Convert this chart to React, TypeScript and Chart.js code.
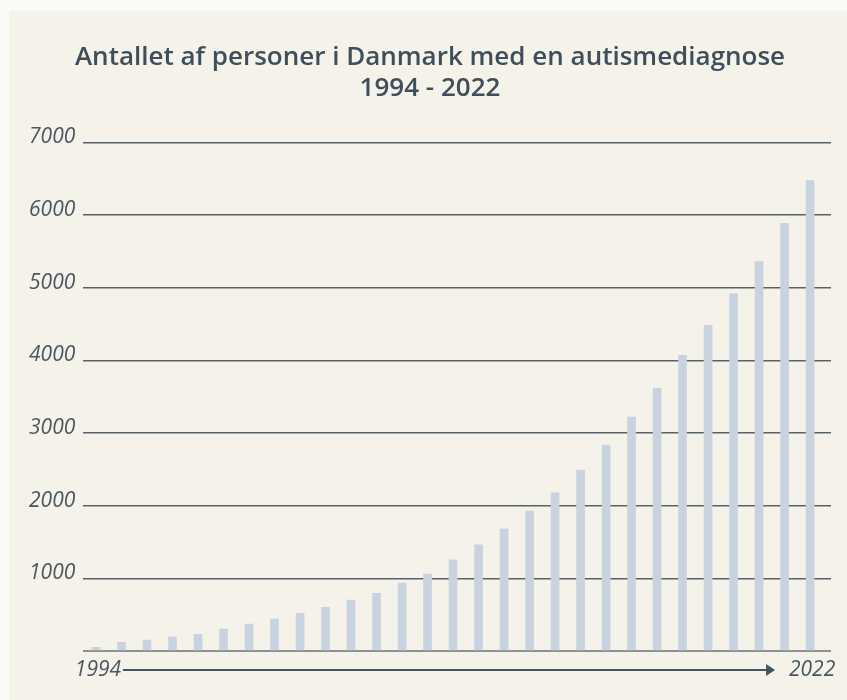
import React, { useEffect, useRef } from "react";
import { Chart, registerables } from "chart.js";

Chart.register(...registerables);

const titleLines = ["Antallet af personer i Danmark med en autismediagnose", "1994 - 2022"];
const years = [
  1994, 1995, 1996, 1997, 1998, 1999, 2000, 2001, 2002, 2003, 2004, 2005, 2006, 2007, 2008,
  2009, 2010, 2011, 2012, 2013, 2014, 2015, 2016, 2017, 2018, 2019, 2020, 2021, 2022,
];
const diagnoses = [
  50, 120, 150, 190, 230, 300, 370, 440, 520, 600, 700, 795, 935, 1060, 1255,
  1460, 1680, 1925, 2175, 2490, 2835, 3220, 3615, 4070, 4480, 4920, 5360, 5885, 6475,
];
const xTickYears = [1994, 2022];
const yMax = 7000;
const yStep = 1000;

const TEXT = "#4a5761";
const TITLE = "#3e4e5a";

const arrowPlugin = {
  id: "yearArrow",
  afterDraw(chart: any) {
    const { ctx, chartArea, scales } = chart;
    const x = scales.x;
    const y = chartArea.bottom + 19;
    const x0 = x.getPixelForValue(xTickYears[0]) + 27;
    const tip = x.getPixelForValue(xTickYears[xTickYears.length - 1]) - 35;
    ctx.save();
    ctx.strokeStyle = "#45535e";
    ctx.fillStyle = "#45535e";
    ctx.lineWidth = 2;
    ctx.beginPath();
    ctx.moveTo(x0, y);
    ctx.lineTo(tip - 6, y);
    ctx.stroke();
    ctx.beginPath();
    ctx.moveTo(tip - 9, y - 6);
    ctx.lineTo(tip, y);
    ctx.lineTo(tip - 9, y + 6);
    ctx.closePath();
    ctx.fill();
    ctx.restore();
  },
};

export default function App() {
  const ref = useRef<HTMLCanvasElement | null>(null);

  useEffect(() => {
    document.body.style.margin = "0";
    if (!ref.current) return;
    const chart = new Chart(ref.current, {
      type: "bar",
      data: {
        datasets: [
          {
            data: years.map((yr, i) => ({ x: yr, y: diagnoses[i] })),
            backgroundColor: "#c9d3e0",
            barThickness: 8,
          },
        ],
      },
      options: {
        animation: false,
        responsive: true,
        maintainAspectRatio: false,
        layout: { padding: { left: 20, right: 16, top: 0, bottom: 0 } },
        plugins: {
          legend: { display: false },
          tooltip: { enabled: false },
          title: {
            display: true,
            text: titleLines,
            color: TITLE,
            font: { family: "'Open Sans', sans-serif", size: 26, weight: 600, lineHeight: 1.16 },
            padding: { top: 32, bottom: 39 },
          },
        },
        scales: {
          x: {
            type: "linear",
            offset: false,
            min: 1993.49,
            max: 2022.82,
            grid: { display: false, offset: false },
            border: { display: false },
            afterBuildTicks(scale: any) {
              scale.ticks = xTickYears.map((v) => ({ value: v }));
            },
            afterFit(scale: any) {
              scale.height = 49;
            },
            ticks: {
              padding: -2,
              labelOffset: 2,
              maxRotation: 0,
              autoSkip: false,
              color: TEXT,
              font: { family: "'Open Sans', sans-serif", size: 21, style: "italic" },
              callback: (v: any) => String(v),
            },
          },
          y: {
            min: 0,
            max: yMax,
            z: 1,
            border: { display: false },
            grid: {
              drawTicks: false,
              color: (c: any) => (c.tick && c.tick.value === 0 ? "#8a9094" : "#56626b"),
              lineWidth: (c: any) => (c.tick && c.tick.value === 0 ? 2 : 1.4),
            },
            afterFit(scale: any) {
              scale.width = 54;
            },
            ticks: {
              stepSize: yStep,
              padding: 4,
              crossAlign: "far",
              labelOffset: -5,
              color: TEXT,
              font: { family: "'Open Sans', sans-serif", size: 21, style: "italic" },
              callback: (v: any) => (v === 0 ? "" : String(v)),
            },
          },
        },
      },
      plugins: [arrowPlugin],
    } as any);
    return () => chart.destroy();
  }, []);

  return (
    <div style={{ position: "fixed", inset: 0, background: "#fafaf6" }}>
      <div
        style={{
          position: "absolute",
          left: 9,
          top: 11,
          width: 838,
          height: 689,
          background: "#f5f2ea",
        }}
      >
        <canvas ref={ref} />
      </div>
    </div>
  );
}
